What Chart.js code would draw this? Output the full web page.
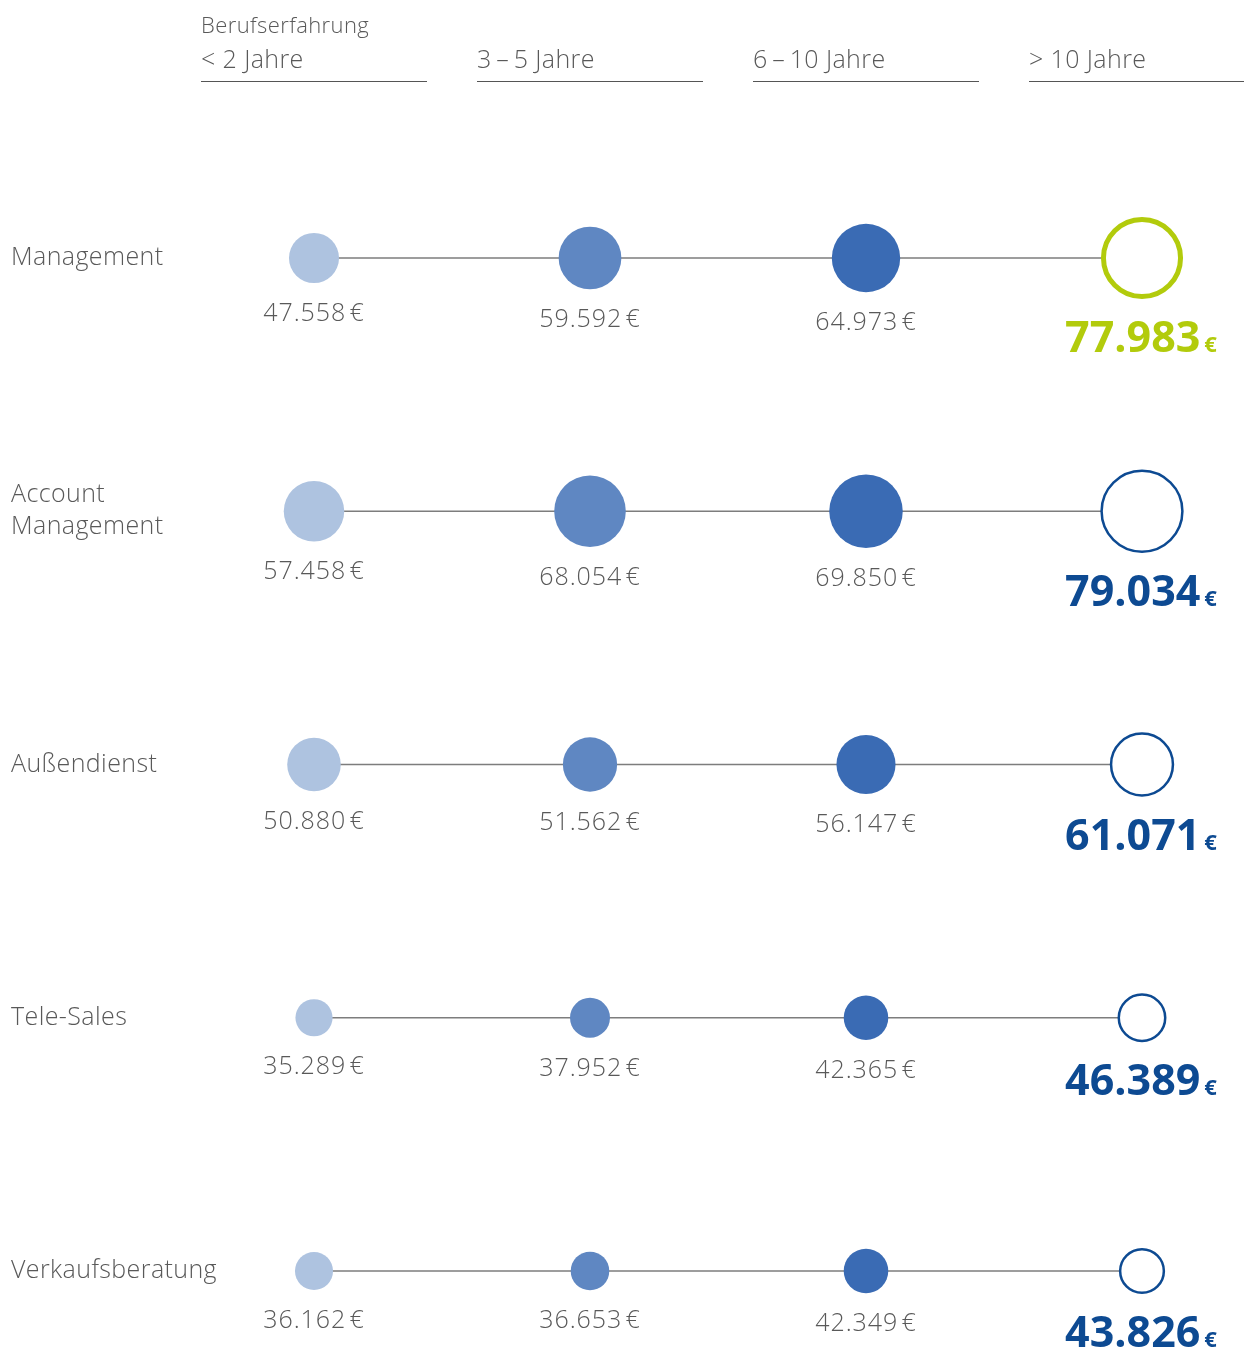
<!DOCTYPE html>
<html lang="de">
<head>
<meta charset="utf-8">
<title>Gehalt nach Berufserfahrung</title>
<script src="https://cdn.jsdelivr.net/npm/chart.js@4.4.1/dist/chart.umd.min.js"></script>
<style>
    html, body { margin: 0; padding: 0; background: #ffffff; }
    #wrap { position: relative; width: 1244px; height: 1349px; }
</style>
</head>
<body>
<div id="wrap"><canvas id="salary-chart"></canvas></div>
<script>
/* Gehalt je Funktion und Berufserfahrung — Bubble-Reihen */

const headerTitle = 'Berufserfahrung';
const columns = ['< 2 Jahre', '3\u2009\u2013\u20095 Jahre', '6\u2009\u2013\u200910 Jahre', '> 10 Jahre'];
const roles = [['Management'], ['Account', 'Management'], ['Außendienst'], ['Tele-Sales'], ['Verkaufsberatung']];

const lessThan2 = [47558, 57458, 50880, 35289, 36162];
const years3to5 = [59592, 68054, 51562, 37952, 36653];
const years6to10 = [64973, 69850, 56147, 42365, 42349];
const moreThan10 = [77983, 79034, 61071, 46389, 43826];

const FONT = '"Open Sans", "Noto Sans", sans-serif';
const GREY_TEXT = '#595959';
const DARK_BLUE = '#0d4a92';
const GREEN = '#b2cb0c';
const fillColors = ['#aec3e0', '#5f87c2', '#3a6bb4'];

// px per Euro for the bubble radius
const radiusOf = v => v / 1900;

function fmt(v) {
    return String(v).replace(/\B(?=(\d{3})+(?!\d))/g, '.');
}

function bubbleSet(values, col) {
    const last = col === 3;
    return {
        type: 'bubble',
        colIndex: col,
        order: 0,
        clip: false,
        data: values.map((v, row) => ({ x: col, y: row, r: last ? radiusOf(v) - (row === 0 ? 2.5 : 1.2) : radiusOf(v), value: v })),
        backgroundColor: last ? '#ffffff' : fillColors[col],
        borderColor: last ? values.map((v, row) => row === 0 ? GREEN : DARK_BLUE) : fillColors[col],
        borderWidth: last ? values.map((v, row) => row === 0 ? 5 : 2.5) : 0,
        hoverRadius: 0
    };
}

function rowLine(row) {
    return {
        type: 'line',
        order: 10,
        clip: false,
        data: [{ x: 0, y: row }, { x: 3, y: row }],
        borderColor: '#7d7d7d',
        borderWidth: 1.5,
        pointRadius: 0,
        fill: false
    };
}

const labelPlugin = {
    id: 'salaryLabels',
    afterDatasetsDraw(chart) {
        const { ctx, scales: { x, y } } = chart;
        ctx.save();

        // header
        ctx.fillStyle = GREY_TEXT;
        ctx.textAlign = 'left';
        ctx.textBaseline = 'alphabetic';
        ctx.letterSpacing = '0.4px';
        ctx.font = `300 22px ${FONT}`;
        ctx.fillText(headerTitle, x.getPixelForValue(0) - 113, 33);
        columns.forEach((c, i) => {
            const cx = x.getPixelForValue(i);
            ctx.font = `300 25px ${FONT}`;
            ctx.fillStyle = GREY_TEXT;
            ctx.fillText(c, cx - 113, 68);
            ctx.strokeStyle = '#555555';
            ctx.lineWidth = 1;
            ctx.beginPath();
            ctx.moveTo(cx - 113, 81.5);
            ctx.lineTo(cx + 113, 81.5);
            ctx.stroke();
        });

        // row labels
        ctx.font = `300 25px ${FONT}`;
        ctx.fillStyle = GREY_TEXT;
        ctx.textBaseline = 'middle';
        roles.forEach((lines, row) => {
            const cy = y.getPixelForValue(row);
            lines.forEach((t, k) => {
                ctx.fillText(t, 11, cy + (k - (lines.length - 1) / 2) * 32);
            });
        });

        // value labels
        ctx.textBaseline = 'alphabetic';
        chart.data.datasets.forEach((ds, di) => {
            if (ds.type !== 'bubble') return;
            const meta = chart.getDatasetMeta(di);
            meta.data.forEach((el, row) => {
                const v = ds.data[row].value;
                const opts = el.options;
                const outer = opts.radius + (opts.borderWidth || 0) / 2;
                const bottom = el.y + outer;
                if (ds.colIndex < 3) {
                    ctx.letterSpacing = '0.9px';
                    ctx.font = `300 25px ${FONT}`;
                    ctx.fillStyle = GREY_TEXT;
                    ctx.textAlign = 'center';
                    ctx.fillText(fmt(v) + '\u200A€', el.x, bottom + 38);
                } else {
                    ctx.letterSpacing = '0px';
                    const num = fmt(v);
                    ctx.font = `bold 43px ${FONT}`;
                    const wNum = ctx.measureText(num).width;
                    ctx.font = `bold 22px ${FONT}`;
                    const wEur = ctx.measureText('€').width;
                    const gap = 4;
                    const left = el.x - (wNum + gap + wEur) / 2 - 1;
                    const base = bottom + 53;
                    ctx.fillStyle = row === 0 ? GREEN : DARK_BLUE;
                    ctx.textAlign = 'left';
                    ctx.font = `bold 43px ${FONT}`;
                    ctx.fillText(num, left, base);
                    ctx.font = `bold 22px ${FONT}`;
                    ctx.fillText('€', left + wNum + gap, base);
                }
            });
        });

        ctx.restore();
    }
};

const ctx = document.getElementById('salary-chart').getContext('2d');
new Chart(ctx, {
    type: 'bubble',
    data: {
        datasets: [
            bubbleSet(lessThan2, 0),
            bubbleSet(years3to5, 1),
            bubbleSet(years6to10, 2),
            bubbleSet(moreThan10, 3),
            ...roles.map((r, row) => rowLine(row))
        ]
    },
    options: {
        responsive: true,
        maintainAspectRatio: false,
        animation: false,
        events: [],
        layout: { padding: { left: 314, right: 102, top: 258, bottom: 78 } },
        plugins: {
            legend: { display: false },
            tooltip: { enabled: false }
        },
        scales: {
            x: { type: 'linear', min: 0, max: 3, display: false },
            y: { type: 'linear', min: 0, max: 4, reverse: true, display: false }
        }
    },
    plugins: [labelPlugin]
});
</script>
</body>
</html>
